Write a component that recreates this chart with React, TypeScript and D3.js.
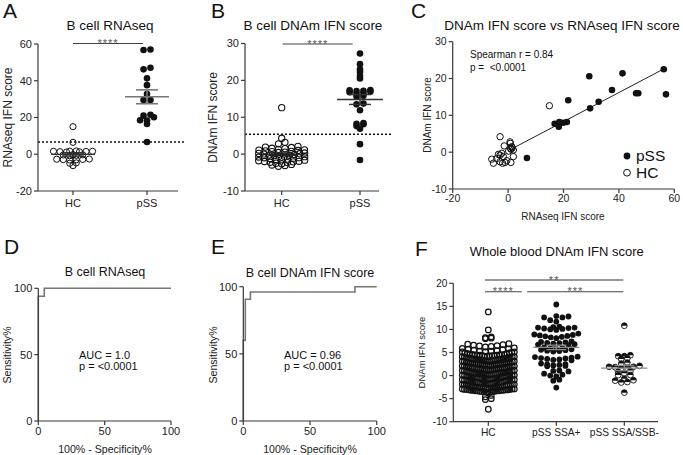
import React from 'react';
import * as d3 from 'd3';

const FONT = '"Liberation Sans", Arial, Helvetica, sans-serif';
const AXIS = '#3a3a3a';

// ---------------- data ----------------
const groupsAB = ['HC', 'pSS'];
const rnaTicks = [-20, 0, 20, 40, 60];
const rnaHC = [15, 6.5, 1.8, 1.6, 1.4, 1.5, 1.3, 1.7, 1.2, 1.6, -0.3, -0.6, -0.4, -0.8, -0.2, -2.8, -3.0, -2.6, -2.9, -3.1, -2.7, -4.7, -4.9, -6.2];
const rnaPSS = [56.7, 57, 47.1, 46.2, 41.3, 37.6, 32.8, 29.5, 29.5, 20.1, 21, 21.5, 18.3, 18.5, 16.5, 6.7];
const rnaThreshold = 6.7;

const dnamTicks = [-10, 0, 10, 20, 30];
const dnamHC = [12.6, 4.3, 3.2, 2.8, 2.1, 1.9, 1.8, 1.6, 1.5, 1.3, 1.15, 1.0, 0.9, 0.75, 0.7, 0.55, 0.45, 0.3, 0.2, 0.05, -0.1, -0.25, -0.4, -0.55, -0.7, -0.8, -0.95, -1.1, -1.2, -1.35, -1.5, -1.65, -1.8, -1.95, -2.1, -2.3, -2.45, -2.6, -2.8, -2.95, -3.1, -3.3, -0.6, -1.0, -2.0, 0.1, -0.3, 1.1, -1.45, -2.2];
const dnamPSS = [27.3, 24.4, 23.0, 22.3, 21.2, 20.5, 17.4, 17.1, 17.2, 16.9, 16.6, 16.3, 16.8, 17.3, 15.8, 15.6, 13.7, 13.5, 11.9, 8.4, 8.2, 8.1, 7.6, 6.9, 2.7, -1.6];
const dnamThreshold = 5.4;

const corrXTicks = [-20, 0, 20, 40, 60];
const corrYTicks = [-10, 0, 10, 20, 30];
const corrPssRna = [56.2, 57, 47, 46.2, 41.3, 37.5, 32.7, 29.3, 29.6, 21.7, 21.2, 19.9, 18.5, 18.3, 16.8, 6.8];
const corrPssDnam = [22.5, 15.7, 16, 16, 21.4, 16.9, 13.7, 20.6, 11.9, 14.1, 8.2, 8.0, 8.2, 6.9, 7.7, -1.6];
const corrHcRna = [-2.9, 14.9, 0.7, 0.8, -1.4, 1.3, 1.9, -2.3, -2.9, -1.7, 1.9, -5.9, -5.3, -4.1, -2.9, -1.1, 1.0, 0.9, -3.5, 0.2, 1.5, -0.5, 1.1, -2.0];
const corrHcDnam = [4.2, 12.6, 2.8, 2.4, 1.7, 1.5, 0.6, -0.3, -0.8, -1.2, -1.2, -1.9, -3.0, -1.7, -2.6, -2.8, -2.8, 1.0, -0.6, 0.3, 1.2, -2.3, 0.8, -3.0];
const corrFitRna = [1.3, 56.2];
const corrFitDnam = [0.9, 22.6];

const rocTicks = [0, 50, 100];
const rocDFpr = [0, 0, 4.5, 4.5, 100];
const rocDTpr = [0, 94, 94, 100, 100];
const rocEFpr = [0, 0, 1.5, 1.5, 5.3, 5.3, 83.7, 83.7, 100];
const rocETpr = [0, 60, 60, 90.6, 90.6, 96, 96, 100, 100];

const wbGroups = ['HC', 'pSS SSA+', 'pSS SSA/SSB-'];
const wbTicks = [-10, -5, 0, 5, 10, 15, 20];
const wbHC = [
  13.8, 9.9, 8.4, 8.2, 8.0, 8.1,
  6.9, 6.8, 6.6, 6.5, 6.4, 6.2, 6.0, 5.9, 6.7, 6.3,
  5.8, 5.7, 5.5, 5.4, 5.3, 5.2, 5.1, 5.0, 4.9, 4.8, 5.6, 5.3, 5.1, 4.9,
  4.7, 4.6, 4.6, 4.5, 4.5, 4.4, 4.4, 4.4, 4.3, 4.3, 4.3, 4.2, 4.2, 4.2, 4.1, 4.1, 4.0, 4.0, 3.9, 4.5, 4.6, 4.1,
  3.8, 3.8, 3.7, 3.7, 3.6, 3.6, 3.5, 3.5, 3.5, 3.4, 3.4, 3.3, 3.3, 3.3, 3.2, 3.2, 3.1, 3.1, 3.0, 3.0, 2.9, 2.9, 3.6, 3.4, 3.2, 3.7,
  2.8, 2.8, 2.7, 2.7, 2.6, 2.6, 2.5, 2.5, 2.5, 2.4, 2.4, 2.3, 2.3, 2.3, 2.2, 2.2, 2.1, 2.1, 2.0, 2.0, 1.9, 1.9, 2.6, 2.4, 2.2, 2.0, 2.7, 2.5,
  1.8, 1.8, 1.7, 1.7, 1.6, 1.6, 1.5, 1.5, 1.5, 1.4, 1.4, 1.3, 1.3, 1.3, 1.2, 1.2, 1.1, 1.1, 1.0, 1.0, 0.9, 0.9, 1.6, 1.4, 1.2, 1.0, 1.7, 0.8,
  0.7, 0.7, 0.6, 0.6, 0.5, 0.5, 0.4, 0.4, 0.4, 0.3, 0.3, 0.2, 0.2, 0.2, 0.1, 0.1, 0.0, 0.0, -0.1, -0.1, -0.2, -0.2, 0.6, 0.4, 0.2, 0.0, 0.5, -0.3,
  -0.3, -0.4, -0.4, -0.5, -0.5, -0.6, -0.6, -0.7, -0.7, -0.8, -0.8, -0.8, -0.9, -0.9, -1.0, -1.0, -1.1, -1.1, -1.2, -1.2, -1.3, -0.5, -0.7, -0.9, -1.1, -0.6, -1.0,
  -1.4, -1.4, -1.5, -1.5, -1.6, -1.6, -1.7, -1.7, -1.8, -1.8, -1.9, -1.9, -2.0, -2.0, -2.1, -2.1, -2.2, -2.2, -2.3, -1.5, -1.7, -1.9, -2.1, -1.6, -2.0,
  -2.4, -2.4, -2.5, -2.5, -2.6, -2.6, -2.7, -2.7, -2.8, -2.8, -2.9, -2.9, -3.0, -3.0, -2.5, -2.6, -2.7, -2.8, -2.9, -2.4, -3.0, -2.6,
  -3.1, -3.1, -3.2, -3.2, -3.2, -3.3, -3.3, -3.3, -3.4, -3.4, -3.4, -3.5, -3.5, -3.1, -3.2, -3.3, -3.4, -3.6,
  -3.8, -4.3, -4.6, -5.0, -5.2, -7.3,
];
const wbSSApos = [
  15.4, 12.9, 12.8, 12.6, 12.6, 12.0, 11.7,
  10.6, 10.4, 10.3, 10.2, 10.1, 10.0, 10.4, 10.5, 9.9,
  8.9, 8.7, 8.6, 8.4, 8.3, 8.1, 8.5, 8.8, 9.1,
  7.4, 7.2, 7.0, 6.9, 6.8, 6.7, 7.1, 7.3, 6.6,
  6.0, 5.8, 5.6, 5.5, 5.3, 5.2, 5.7, 5.9, 5.4, 6.1,
  4.1, 3.9, 3.8, 3.6, 3.5, 3.7, 4.0, 3.4, 3.3,
  2.6, 2.4, 2.2, 2.1, 2.0, 2.3, 2.5,
  1.1, 0.9, 1.0, 0.4, 0.2, 0.0, -0.2, -0.9, -1.1, -2.6,
];
const wbSSAneg = [10.8, 4.4, 4.2, 4.2, 3.8, 3.6, 2.8, 2.6, 2.1, 1.9, 1.8, 1.9, 1.7, 1.6, 1.0, 0.8, 0.5, 0.1, 0.1, -0.7, -1.0, -1.4, -1.5, -1.1, -3.7];

// ---------------- helpers ----------------
type P = { v: number; px: number; py: number };

function swarm(values: number[], y: (v: number) => number, cx: number, r: number, maxHalf: number, binH: number): P[] {
  const pts = values.map((v) => ({ v, py: y(v) }));
  const bins = d3.group(pts, (p) => Math.round(p.py / binH));
  const out: P[] = [];
  for (const [, arr] of bins) {
    const sorted = arr.slice().sort((a, b) => a.v - b.v);
    const n = sorted.length;
    const s = n > 1 ? Math.min(2 * r * 1.05, (2 * maxHalf) / (n - 1)) : 0;
    const offs = d3.range(n).map((i) => (i - (n - 1) / 2) * s)
      .sort((a, b) => Math.abs(a) - Math.abs(b) || a - b);
    sorted.forEach((p, i) => out.push({ ...p, px: cx + offs[i] }));
  }
  return out;
}

function stats(values: number[]) {
  const m = d3.mean(values) as number;
  const sem = (d3.deviation(values) as number) / Math.sqrt(values.length);
  return { m, sem };
}

function YAxis({ x, scale, ticks, fs }: any) {
  const [d0, d1] = scale.domain();
  return (
    <g>
      <line x1={x} x2={x} y1={scale(d1)} y2={scale(d0)} stroke={AXIS} strokeWidth={1.2} />
      {ticks.map((t: number) => (
        <g key={t}>
          <line x1={x - 4} x2={x} y1={scale(t)} y2={scale(t)} stroke={AXIS} strokeWidth={1.2} />
          <text x={x - 6} y={scale(t)} dy="0.35em" textAnchor="end" fontSize={fs} fill="#222">{t}</text>
        </g>
      ))}
    </g>
  );
}

function XAxisLinear({ y, scale, ticks, fs, labelDy }: any) {
  const [d0, d1] = scale.domain();
  return (
    <g>
      <line x1={scale(d0)} x2={scale(d1)} y1={y} y2={y} stroke={AXIS} strokeWidth={1.2} />
      {ticks.map((t: number) => (
        <g key={t}>
          <line x1={scale(t)} x2={scale(t)} y1={y} y2={y + 4} stroke={AXIS} strokeWidth={1.2} />
          <text x={scale(t)} y={y + labelDy} textAnchor="middle" fontSize={fs} fill="#222">{t}</text>
        </g>
      ))}
    </g>
  );
}

function XAxisCat({ y, x0, x1, scale, cats, fs, labelDy }: any) {
  return (
    <g>
      <line x1={x0} x2={x1} y1={y} y2={y} stroke={AXIS} strokeWidth={1.2} />
      {cats.map((c: string) => (
        <g key={c}>
          <line x1={scale(c)} x2={scale(c)} y1={y} y2={y + 4} stroke={AXIS} strokeWidth={1.2} />
          <text x={scale(c)} y={y + labelDy} textAnchor="middle" fontSize={fs} fill="#222">{c}</text>
        </g>
      ))}
    </g>
  );
}

function VTitle({ x, y, fs, children }: any) {
  return (
    <text transform={`translate(${x},${y}) rotate(-90)`} textAnchor="middle" dy="0.35em" fontSize={fs} fill="#222">{children}</text>
  );
}

function MeanSem({ values, cx, y, w, ws, color, sw }: any) {
  const { m, sem } = stats(values);
  return (
    <g stroke={color} strokeWidth={sw} fill="none">
      <line x1={cx - w} x2={cx + w} y1={y(m)} y2={y(m)} />
      <line x1={cx} x2={cx} y1={y(m + sem)} y2={y(m - sem)} />
      <line x1={cx - ws} x2={cx + ws} y1={y(m + sem)} y2={y(m + sem)} />
      <line x1={cx - ws} x2={cx + ws} y1={y(m - sem)} y2={y(m - sem)} />
    </g>
  );
}

function Sig({ x0, x1, y, label, color, sw }: any) {
  return (
    <g>
      <line x1={x0} x2={x1} y1={y} y2={y} stroke={color} strokeWidth={sw} />
      <text x={(x0 + x1) / 2} y={y + 3.5} textAnchor="middle" fontSize={11} fill="#555" letterSpacing={1}>{label}</text>
    </g>
  );
}

function Letter({ x, y, children }: any) {
  return <text x={x} y={y} fontSize={21} fill="#111">{children}</text>;
}

function Title({ x, y, fs, children }: any) {
  return <text x={x} y={y} fontSize={fs} textAnchor="middle" fill="#111">{children}</text>;
}

export default function App() {
  // Panel A
  const yA = d3.scaleLinear().domain([-20, 60]).range([191, 44]);
  const xA = d3.scalePoint<string>().domain(groupsAB).range([73, 147]);
  const aHC = swarm(rnaHC, yA, xA('HC')!, 3.1, 22, 3.4);
  const aPSS = swarm(rnaPSS, yA, xA('pSS')!, 3.3, 22, 3.4);

  // Panel B
  const yB = d3.scaleLinear().domain([-10, 30]).range([191, 43.5]);
  const xB = d3.scalePoint<string>().domain(groupsAB).range([281.7, 360]);
  const bHC = swarm(dnamHC, yB, xB('HC')!, 3.1, 23, 3.6);
  const bPSS = swarm(dnamPSS, yB, xB('pSS')!, 3.3, 24, 3.6);

  // Panel C
  const xC = d3.scaleLinear().domain([-20, 60]).range([452.7, 674.3]);
  const yC = d3.scaleLinear().domain([-10, 30]).range([189, 41.7]);

  // Panels D, E
  const xD = d3.scaleLinear().domain([0, 100]).range([38.3, 171]);
  const yD = d3.scaleLinear().domain([0, 100]).range([421, 288.3]);
  const xE = d3.scaleLinear().domain([0, 100]).range([243.3, 376.7]);
  const yE = d3.scaleLinear().domain([0, 100]).range([421, 286.7]);
  const lineD = d3.line<number>().x((d) => xD(rocDFpr[d])).y((d) => yD(rocDTpr[d]));
  const lineE = d3.line<number>().x((d) => xE(rocEFpr[d])).y((d) => yE(rocETpr[d]));

  // Panel F
  const yF = d3.scaleLinear().domain([-10, 20]).range([421.7, 283.3]);
  const xF = d3.scalePoint<string>().domain(wbGroups).range([488.3, 624.3]);
  const fHC = swarm(wbHC, yF, xF('HC')!, 2.8, 26, 4.6);
  const fPos = swarm(wbSSApos, yF, xF('pSS SSA+')!, 2.9, 22, 5.5);
  const fNeg = swarm(wbSSAneg, yF, xF('pSS SSA/SSB-')!, 2.9, 22, 4.6);

  const half = (x: number, y: number, r: number) => `M${x - r},${y} A${r},${r} 0 0 1 ${x + r},${y} Z`;

  return (
    <svg width={683} height={455} style={{ position: 'absolute', left: 0, top: 0, background: '#fff' }} fontFamily={FONT}>
      <rect x={0} y={0} width={683} height={455} fill="#fff" />

      {/* ---------- A ---------- */}
      <Letter x={3} y={18}>A</Letter>
      <Title x={110} y={29.5} fs={13.5}>B cell RNAseq</Title>
      <VTitle x={8} y={117.5} fs={12}>RNAseq IFN score</VTitle>
      <line x1={38} x2={185} y1={yA(rnaThreshold)} y2={yA(rnaThreshold)} stroke="#111" strokeWidth={1.6} strokeDasharray="2,2" />
      {aHC.map((p, i) => <circle key={'ah' + i} cx={p.px} cy={p.py} r={3.1} fill="none" stroke="#111" strokeWidth={1} />)}
      {aPSS.map((p, i) => <circle key={'ap' + i} cx={p.px} cy={p.py} r={3.3} fill="#111" />)}
      <MeanSem values={rnaHC} cx={xA('HC')} y={yA} w={22} ws={11} color="#333" sw={1.4} />
      <MeanSem values={rnaPSS} cx={xA('pSS')} y={yA} w={22} ws={11} color="#777" sw={1.6} />
      <YAxis x={38} scale={yA} ticks={rnaTicks} fs={11} />
      <XAxisCat y={191} x0={38} x1={178} scale={xA} cats={groupsAB} fs={11} labelDy={16} />
      <Sig x0={73} x1={143} y={43.5} label="****" color="#444" sw={1.1} />

      {/* ---------- B ---------- */}
      <Letter x={211} y={18}>B</Letter>
      <Title x={313} y={29.5} fs={13.5}>B cell DNAm IFN score</Title>
      <VTitle x={213} y={117.5} fs={12}>DNAm IFN score</VTitle>
      <line x1={245} x2={393} y1={yB(dnamThreshold)} y2={yB(dnamThreshold)} stroke="#111" strokeWidth={1.6} strokeDasharray="2,2" />
      {bHC.map((p, i) => <circle key={'bh' + i} cx={p.px} cy={p.py} r={3.1} fill="none" stroke="#111" strokeWidth={1.1} />)}
      {bPSS.map((p, i) => <circle key={'bp' + i} cx={p.px} cy={p.py} r={3.3} fill="#111" />)}
      <MeanSem values={dnamHC} cx={xB('HC')} y={yB} w={23} ws={11} color="#222" sw={1.4} />
      <MeanSem values={dnamPSS} cx={xB('pSS')} y={yB} w={23} ws={11} color="#333" sw={1.4} />
      <YAxis x={245} scale={yB} ticks={dnamTicks} fs={11} />
      <XAxisCat y={191} x0={245} x1={379} scale={xB} cats={groupsAB} fs={11} labelDy={16} />
      <Sig x0={282.7} x1={352.7} y={44} label="****" color="#444" sw={1.1} />

      {/* ---------- C ---------- */}
      <Letter x={411} y={18}>C</Letter>
      <Title x={562} y={29.5} fs={13.5}>DNAm IFN score vs RNAseq IFN score</Title>
      <VTitle x={427} y={115} fs={10}>DNAm IFN score</VTitle>
      <text x={563} y={219.5} fontSize={10} textAnchor="middle" fill="#222">RNAseq IFN score</text>
      <text x={470} y={57.5} fontSize={10} fill="#111">Spearman r = 0.84</text>
      <text x={470} y={70.5} fontSize={10} fill="#111" style={{ whiteSpace: 'pre' }}>{'p =  <0.0001'}</text>
      {corrHcRna.map((v, i) => <circle key={'ch' + i} cx={xC(v)} cy={yC(corrHcDnam[i])} r={3.2} fill="none" stroke="#111" strokeWidth={1} />)}
      <line x1={xC(corrFitRna[0])} y1={yC(corrFitDnam[0])} x2={xC(corrFitRna[1])} y2={yC(corrFitDnam[1])} stroke="#222" strokeWidth={1} />
      {corrPssRna.map((v, i) => <circle key={'cp' + i} cx={xC(v)} cy={yC(corrPssDnam[i])} r={3.3} fill="#111" />)}
      <YAxis x={452.7} scale={yC} ticks={corrYTicks} fs={10.5} />
      <XAxisLinear y={189} scale={xC} ticks={corrXTicks} fs={10.5} labelDy={13} />
      <circle cx={627} cy={156} r={3.4} fill="#111" />
      <text x={636} y={156} dy="0.35em" fontSize={15.5} fill="#111">pSS</text>
      <circle cx={627} cy={172.7} r={3.4} fill="none" stroke="#111" strokeWidth={1} />
      <text x={636} y={172.7} dy="0.35em" fontSize={15.5} fill="#111">HC</text>

      {/* ---------- D ---------- */}
      <Letter x={4} y={254}>D</Letter>
      <Title x={105} y={276} fs={12.5}>B cell RNAseq</Title>
      <VTitle x={7} y={355} fs={10.6}>Sensitivity%</VTitle>
      <text x={105} y={453} fontSize={10.6} textAnchor="middle" fill="#222">100% - Specificity%</text>
      <path d={lineD(d3.range(rocDFpr.length)) as string} fill="none" stroke="#777" strokeWidth={1.6} />
      <YAxis x={38.3} scale={yD} ticks={rocTicks} fs={11} />
      <XAxisLinear y={421} scale={xD} ticks={rocTicks} fs={11} labelDy={14} />
      <text x={79} y={358.5} fontSize={11} fill="#111">AUC = 1.0</text>
      <text x={79} y={370} fontSize={11} fill="#111">p = &lt;0.0001</text>

      {/* ---------- E ---------- */}
      <Letter x={211} y={254}>E</Letter>
      <Title x={310} y={276.5} fs={12.5}>B cell DNAm IFN score</Title>
      <VTitle x={213} y={355} fs={10.6}>Sensitivity%</VTitle>
      <text x={310} y={453} fontSize={10.6} textAnchor="middle" fill="#222">100% - Specificity%</text>
      <path d={lineE(d3.range(rocEFpr.length)) as string} fill="none" stroke="#777" strokeWidth={1.6} />
      <YAxis x={243.3} scale={yE} ticks={rocTicks} fs={11} />
      <XAxisLinear y={421} scale={xE} ticks={rocTicks} fs={11} labelDy={14} />
      <text x={284} y={358.5} fontSize={11} fill="#111">AUC = 0.96</text>
      <text x={284} y={370} fontSize={11} fill="#111">p = &lt;0.0001</text>

      {/* ---------- F ---------- */}
      <Letter x={415} y={256}>F</Letter>
      <Title x={556.7} y={256} fs={13}>Whole blood DNAm IFN score</Title>
      <VTitle x={421.7} y={352.5} fs={9.5}>DNAm IFN score</VTitle>
      {fHC.map((p, i) => <circle key={'fh' + i} cx={p.px} cy={p.py} r={2.8} fill="none" stroke="#111" strokeWidth={1.25} />)}
      {fPos.map((p, i) => <circle key={'fp' + i} cx={p.px} cy={p.py} r={2.9} fill="#111" />)}
      {fNeg.map((p, i) => (
        <g key={'fn' + i}>
          <circle cx={p.px} cy={p.py} r={2.9} fill="#fff" stroke="#111" strokeWidth={0.9} />
          <path d={half(p.px, p.py, 2.9)} fill="#111" />
        </g>
      ))}
      <MeanSem values={wbSSApos} cx={xF('pSS SSA+')} y={yF} w={23} ws={10} color="#888" sw={1.3} />
      <MeanSem values={wbSSAneg} cx={xF('pSS SSA/SSB-')} y={yF} w={23} ws={10} color="#888" sw={1.3} />
      <YAxis x={453.3} scale={yF} ticks={wbTicks} fs={10} />
      <XAxisCat y={421.7} x0={453.3} x1={658} scale={xF} cats={wbGroups} fs={10.2} labelDy={14} />
      <Sig x0={485} x1={623.3} y={280} label="**" color="#999" sw={2} />
      <Sig x0={485} x1={521.7} y={291.7} label="****" color="#444" sw={1.1} />
      <Sig x0={527.3} x1={623.3} y={291.7} label="***" color="#444" sw={1.1} />
    </svg>
  );
}
